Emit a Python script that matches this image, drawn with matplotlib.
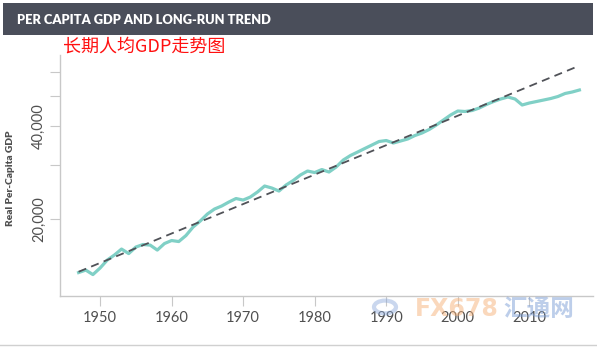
import numpy as np
import matplotlib.pyplot as plt
from matplotlib.patches import Rectangle, Circle
from matplotlib.lines import Line2D

years = np.arange(1947, 2018)
gdp = [13420, 13670, 13220, 13880, 14730, 15290, 15990, 15460, 16230, 16540,
       16470, 15870, 16660, 17040, 16910, 17680, 18840, 19700, 20760, 21550,
       22040, 22700, 23300, 23040, 23560, 24460, 25580, 25200, 24640, 25770,
       26650, 27760, 28600, 28280, 28920, 28390, 29470, 31050, 32110, 32950,
       33830, 34720, 35640, 35900, 35240, 35770, 36310, 37260, 37970, 38970,
       40300, 41830, 43420, 44730, 44570, 44900, 45740, 46950, 48010, 48920,
       49650, 48920, 46780, 47480, 48010, 48550, 49100, 49840, 50970, 51540,
       52310]
trend_years = [1947, 2017]
trend_values = [13500, 62700]

x_ticks = [1950, 1960, 1970, 1980, 1990, 2000, 2010]
y_ticks = [20000, 40000]
y_tick_labels = ['20,000', '40,000']
y_minor = [30000, 50000, 60000]

fig = plt.figure(figsize=(5.97, 3.48), dpi=100)
ax = fig.add_axes([60/597, 1-296/348, 533/597, 241/348])

ax.plot(years, gdp, color='#80d0c6', lw=2.3, solid_joinstyle='round')
ax.plot(trend_years, trend_values, color='#505258', lw=1.3, dashes=(4.5, 3))

ax.set_yscale('log')
ax.set_xlim(1944.4, 2018.9)
ax.set_ylim(11270, 67900)
ax.set_xticks(x_ticks)
ax.set_xticklabels([str(v) for v in x_ticks])
ax.set_yticks(y_ticks)
ax.set_yticklabels(y_tick_labels, rotation=90, va='center')
ax.set_yticks(y_minor, minor=True)
ax.yaxis.set_minor_formatter(plt.NullFormatter())

for s in ['top', 'right']:
    ax.spines[s].set_visible(False)
for s in ['left', 'bottom']:
    ax.spines[s].set_color('#c8c8c8')
    ax.spines[s].set_linewidth(1.0)
ax.tick_params(which='both', direction='out', length=7, width=0.8, color='#c8c8c8',
               labelcolor='#505050', labelsize=10.5)
ax.tick_params(axis='y', pad=3)
for lab in ax.get_xticklabels() + ax.get_yticklabels():
    lab.set_family('Lato')

ax.set_ylabel('Real Per-Capita GDP', fontsize=7.3, fontweight='heavy', color='#505050',
              family='Lato', labelpad=6)
ax.yaxis.set_label_coords(-45/533, 0.49)

# header band
fig.patches.append(Rectangle((3/597, 1-35/348), 590/597, 32/348, transform=fig.transFigure,
                             facecolor='#4a4e5a', edgecolor='none'))
fig.text(17/597, 1-20/348, 'PER CAPITA GDP AND LONG-RUN TREND', color='white', fontsize=9.3,
         fontweight='heavy', family='Lato', va='center', ha='left')
fig.text(63/597, 1-47/348, '长期人均GDP走势图', color='#ff1010', fontsize=13,
         family=['Noto Sans CJK SC', 'DejaVu Sans'], va='center', ha='left')

# bottom rule
fig.lines.append(Line2D([0, 1], [1-345/348, 1-345/348], transform=fig.transFigure,
                        color='#d0d0d0', lw=1))

# watermark
fig.patches.append(Circle((385/597, 1-307/348), 11/597, transform=fig.transFigure,
                          facecolor='none', edgecolor='#8aa8da', lw=3, alpha=0.45))
fig.text(415/597, 1-309/348, 'FX678', color='#f7b27a', alpha=0.5, fontsize=17,
         fontweight='bold', family='DejaVu Sans', va='center', ha='left')
fig.text(503/597, 1-309/348, '汇通网', color='#7d9fd6', alpha=0.5, fontsize=17,
         fontweight='bold', family=['Noto Sans CJK SC', 'DejaVu Sans'], va='center', ha='left')

fig.savefig('out.png', dpi=100)
